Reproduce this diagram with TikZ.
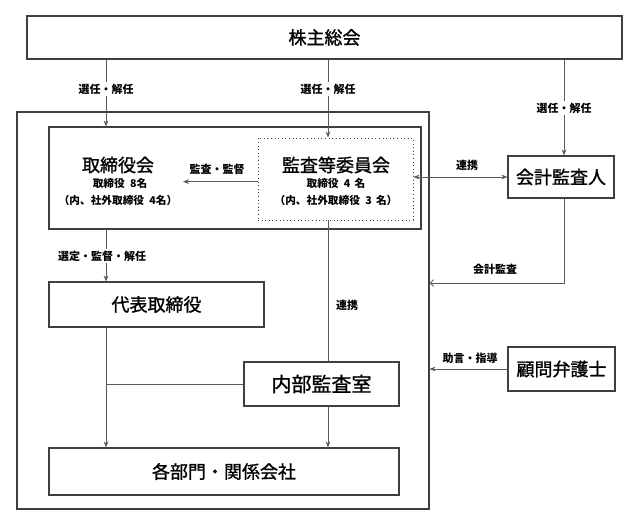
\documentclass[tikz,border=0pt]{standalone}
\usepackage{fontspec}
\newfontfamily\jp{Noto Sans CJK JP}
\newfontfamily\jpt[FakeBold=1.2]{Noto Sans CJK JP}
\usetikzlibrary{arrows.meta,fit,calc}
\definecolor{boxc}{HTML}{404040}
\definecolor{linec}{HTML}{5A5A5A}
\begin{document}
\begin{tikzpicture}[x=0.75pt,y=-0.75pt,
  box/.style={draw=boxc, line width=0.8pt, inner sep=0pt},
  dotbox/.style={draw=boxc, dotted, line width=0.7pt, inner sep=0pt},
  conn/.style={draw=linec, line width=0.7pt},
  arr/.style={conn, -{Stealth[length=4.5pt,width=3.5pt]}},
  darr/.style={conn, {Stealth[length=4.5pt,width=3.5pt]}-{Stealth[length=4.5pt,width=3.5pt]}},
  oarr/.style={conn, -{Straight Barb[length=2.5pt,width=5pt]}},
  lab/.style={font=\jp\bfseries\fontsize{8.25}{10}\selectfont, inner sep=1pt},
  wlab/.style={lab, fill=white},
  ttl/.style={font=\jpt\fontsize{13.5}{16}\selectfont, inner sep=0pt},
  bigttl/.style={font=\jpt\fontsize{15}{18}\selectfont, inner sep=0pt},
  sub/.style={font=\jp\bfseries\fontsize{8}{10}\selectfont, inner sep=0pt}]
\useasboundingbox (0,0) rectangle (643,520);

% boxes
\node[box, fit={(27,16)(622,59)}] (top) {};
\node[ttl] (topt) at (top.center) {株主総会};
\node[box, fit={(17,112)(429,509)}] (outer) {};
\node[box, fit={(49,127)(421,229)}] (inner) {};
\node[dotbox, fit={(258,138)(413,220)}] (audit) {};
\node[ttl] (tbt) at (118,165) {取締役会};
\node[sub] (tbs1) at (120,183) {取締役\hspace{0.5em}8名};
\node[sub] (tbs2) at (118,200) {（内、社外取締役\hspace{0.5em}4名）};
\node[ttl] (aut) at (336,165) {監査等委員会};
\node[sub] (aus1) at (336,183) {取締役\hspace{0.5em}4\hspace{0.4em}名};
\node[sub] (aus2) at (336,200) {（内、社外取締役\hspace{0.5em}3\hspace{0.4em}名）};
\node[box, fit={(49,282)(264,327)}] (daihyo) {};
\node[ttl] (daihyot) at (daihyo.center) {代表取締役};
\node[box, fit={(244,362)(399,406)}] (naibu) {};
\node[bigttl] (naibut) at (naibu.center) {内部監査室};
\node[box, fit={(49,448)(399,495)}] (kaku) {};
\node[ttl] (kakut) at (kaku.center) {各部門・関係会社};
\node[box, fit={(508,156)(614,198)}] (kaikei) {};
\node[ttl] (kaikeit) at (kaikei.center) {会計監査人};
\node[box, fit={(508,347)(615,391)}] (komon) {};
\node[ttl] (komont) at (komon.center) {顧問弁護士};

% guide coordinates
\coordinate (xL) at (106,0);
\coordinate (xM) at (328,0);
\coordinate (xR) at (564,0);
\coordinate (ka) at (0,283);
\coordinate (kx) at (183,0);

% connectors
\draw[arr] (xL |- top.south) -- (xL |- inner.north);
\draw[arr] (xM |- top.south) -- (xM |- audit.north);
\draw[arr] (xR |- top.south) -- (xR |- kaikei.north);
\draw[arr] ([yshift=-2pt]audit.west) -- ([yshift=-2pt]audit.west -| kx);
\draw[darr] (audit.east |- kaikei.west) -- (kaikei.west);
\draw[oarr] (xR |- kaikei.south) |- (outer.east |- ka);
\draw[arr] (xL |- inner.south) -- (xL |- daihyo.north);
\draw[conn] (xM |- audit.south) -- (xM |- naibu.north);
\draw[arr] (xL |- daihyo.south) -- (xL |- kaku.north);
\draw[conn] (xL |- naibu.west) -- (naibu.west);
\draw[arr] (xM |- naibu.south) -- (xM |- kaku.north);
\draw[arr] (komon.west) -- (komon.west -| outer.east);

% labels
\node[wlab] (l1) at (106,89) {選任・解任};
\node[wlab] (l2) at (328,89) {選任・解任};
\node[wlab] (l3) at (564,108) {選任・解任};
\node[lab] (l4) at (217,169) {監査・監督};
\node[lab] (l5) at (467,165) {連携};
\node[lab] (l6) at (495,269) {会計監査};
\node[wlab] (l7) at (102,256) {選定・監督・解任};
\node[lab] (l8) at (347,305) {連携};
\node[lab] (l9) at (470,358) {助言・指導};
\end{tikzpicture}
\end{document}
